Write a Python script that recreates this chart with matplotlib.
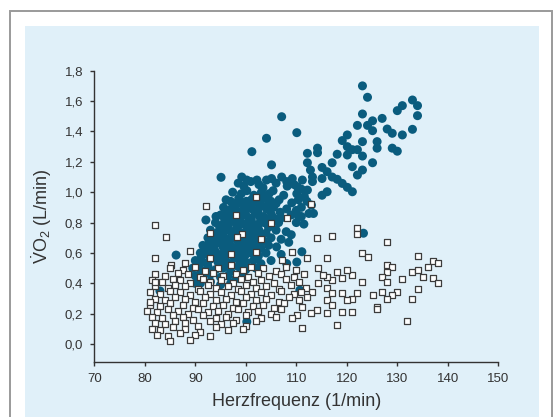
import matplotlib
matplotlib.use("Agg")
import matplotlib.pyplot as plt
from matplotlib.patches import Rectangle

plt.rcParams['font.family'] = ['Liberation Sans', 'DejaVu Sans']
plt.rcParams['mathtext.fontset'] = 'custom'
plt.rcParams['mathtext.rm'] = 'Liberation Sans'
plt.rcParams['mathtext.it'] = 'Liberation Sans'

# ---- data: filled circles (x = heart rate, y = VO2) ----
circle_x = [
    123.1, 124.1, 133.0, 134.0, 131.0, 130.0, 134.0, 123.1, 127.0, 125.1, 122.1, 124.1, 125.1, 128.0, 129.0,
    131.0, 133.0, 120.1, 119.1, 123.1, 126.0, 126.0, 129.0, 130.0, 120.1, 121.1, 122.1, 118.1, 120.1, 123.1,
    125.1, 117.1, 121.1, 115.1, 123.1, 116.1, 117.1, 118.1, 115.1, 119.1, 121.1, 116.1, 115.1, 120.1, 122.1,
    114.2, 112.2, 112.2, 112.8, 113.2, 111.2, 113.2, 109.2, 110.2, 112.2, 114.2, 107.1, 110.1, 104.1, 101.2,
    105.1, 95.1, 99.2, 100.2, 102.2, 104.1, 105.1, 107.1, 108.1, 86.2, 83.0, 92.1, 94.1, 123.3, 111.1,
    110.1, 108.1, 113.4, 113.0, 111.0, 111.0,
    98.5, 99.6, 101.0, 102.6, 103.4, 106.0, 108.2, 109.6, 111.0,
    97.4, 99.1, 100.2, 101.6, 103.1, 104.6, 105.4, 107.5, 110.1, 111.6,
    96.1, 97.0, 98.6, 100.1, 101.1, 102.2, 103.6, 105.0, 106.6, 109.1, 110.4, 112.1,
    95.6, 97.1, 98.0, 99.6, 100.5, 101.6, 103.0, 104.1, 105.5, 108.1, 110.0,
    95.0, 96.6, 97.6, 99.0, 100.0, 101.1, 102.1, 103.5, 105.1, 107.0, 109.0, 110.5, 112.5,
    94.0, 95.5, 97.0, 98.1, 99.1, 100.0, 101.1, 102.5, 103.6, 105.0, 106.5, 110.0, 111.5,
    93.0, 94.6, 96.0, 97.1, 98.0, 99.1, 100.5, 101.5, 102.6, 104.0, 106.0, 108.0, 109.0,
    92.5, 94.0, 95.1, 96.5, 97.6, 99.0, 100.1, 101.0, 102.1, 103.5, 105.0, 107.0, 108.5,
    91.5, 93.0, 94.1, 95.5, 97.0, 98.1, 99.0, 100.1, 101.5, 103.0, 104.5, 106.1,
    91.0, 92.5, 94.0, 95.1, 96.0, 97.5, 99.0, 100.0, 101.1, 102.5, 104.0, 107.0,
    90.0, 91.5, 93.0, 94.5, 96.0, 97.1, 98.5, 100.0, 101.5, 103.0, 105.0,
    89.5, 91.0, 92.5, 94.0, 95.5, 97.0, 98.5, 100.0, 102.0,
    90.0, 91.5, 93.0, 95.0, 96.5, 98.0, 99.5,
    91.0, 93.0, 95.0, 97.0,
    110.7, 100.2, 90.0,
    97.8, 99.3, 100.8, 102.8, 104.4, 106.0,
    96.3, 98.8, 100.0, 102.4, 104.8, 106.8,
    95.8, 98.5, 100.6, 102.9, 104.3, 106.0,
    94.8, 96.5, 98.6, 100.4, 102.0, 104.5,
    93.8, 95.6, 97.9, 99.6, 101.3, 103.0,
    92.8, 94.8, 96.3, 98.5, 100.6, 102.6,
    92.0, 93.6, 96.6, 98.4, 100.6, 102.0,
    91.2, 93.8, 95.6, 97.8, 99.6, 102.0,
    90.6, 92.4, 95.0, 96.4, 99.0,
]
circle_y = [
    1.700, 1.625, 1.607, 1.570, 1.570, 1.537, 1.504, 1.515, 1.486, 1.470, 1.440, 1.440, 1.405, 1.416, 1.388,
    1.377, 1.414, 1.377, 1.340, 1.333, 1.333, 1.290, 1.290, 1.270, 1.300, 1.280, 1.280, 1.250, 1.245, 1.238,
    1.194, 1.194, 1.168, 1.163, 1.146, 1.135, 1.100, 1.085, 1.090, 1.058, 1.003, 1.003, 0.980, 1.032, 1.113,
    1.260, 1.256, 1.194, 1.146, 1.100, 1.080, 1.070, 1.090, 1.036, 1.014, 1.290, 1.497, 1.392, 1.355, 1.267,
    1.180, 1.098, 1.100, 1.080, 1.080, 1.080, 1.090, 1.100, 1.070, 0.586, 0.350, 0.817, 0.840, 0.730, 0.608,
    0.540, 0.530, 0.860, 0.915, 0.900, 0.840,
    1.06, 1.04, 1.07, 1.05, 1.03, 1.06, 1.04, 1.05, 1.02,
    1.00, 0.99, 1.01, 0.98, 1.00, 0.99, 1.01, 0.98, 0.99, 0.97,
    0.95, 0.94, 0.96, 0.94, 0.95, 0.93, 0.96, 0.94, 0.95, 0.93, 0.95, 0.94,
    0.90, 0.89, 0.91, 0.89, 0.90, 0.88, 0.91, 0.89, 0.90, 0.89, 0.88,
    0.85, 0.84, 0.86, 0.84, 0.85, 0.83, 0.86, 0.84, 0.85, 0.83, 0.85, 0.84, 0.86,
    0.80, 0.79, 0.81, 0.79, 0.80, 0.78, 0.81, 0.79, 0.80, 0.78, 0.80, 0.80, 0.79,
    0.75, 0.74, 0.76, 0.74, 0.75, 0.73, 0.76, 0.74, 0.75, 0.73, 0.75, 0.74, 0.72,
    0.70, 0.69, 0.71, 0.69, 0.70, 0.68, 0.71, 0.69, 0.70, 0.68, 0.70, 0.69, 0.67,
    0.65, 0.64, 0.66, 0.64, 0.65, 0.63, 0.66, 0.64, 0.65, 0.63, 0.65, 0.64,
    0.60, 0.59, 0.61, 0.59, 0.60, 0.58, 0.61, 0.59, 0.60, 0.58, 0.60, 0.59,
    0.55, 0.54, 0.56, 0.54, 0.55, 0.53, 0.56, 0.54, 0.55, 0.53, 0.55,
    0.50, 0.49, 0.51, 0.49, 0.50, 0.48, 0.51, 0.49, 0.50,
    0.45, 0.44, 0.46, 0.44, 0.45, 0.43, 0.45,
    0.40, 0.41, 0.39, 0.40,
    0.355, 0.147, 0.400,
    0.925, 0.930, 0.920, 0.928, 0.918, 0.925,
    0.875, 0.870, 0.880, 0.872, 0.878, 0.868,
    0.825, 0.830, 0.820, 0.828, 0.818, 0.822,
    0.775, 0.770, 0.780, 0.772, 0.778, 0.768,
    0.725, 0.730, 0.720, 0.728, 0.718, 0.722,
    0.675, 0.670, 0.680, 0.672, 0.678, 0.668,
    0.625, 0.630, 0.620, 0.628, 0.618, 0.622,
    0.575, 0.570, 0.580, 0.572, 0.578, 0.568,
    0.525, 0.530, 0.520, 0.528, 0.518,
]

# ---- data: open squares ----
square_x = [
    102.0, 92.1, 113.0, 98.1, 108.1, 105.0, 82.0, 93.0, 99.2, 98.2, 103.0, 84.1, 114.0, 117.0, 122.0,
    122.1, 128.0, 89.0, 82.0, 97.1, 102.0, 109.1, 123.1, 124.1, 134.0, 112.1, 116.0, 107.1, 93.0, 88.0,
    85.1, 137.1, 138.1, 128.0, 129.0, 136.1, 133.0, 134.0, 128.0, 127.0, 128.0, 131.0, 135.0, 137.0, 138.1,
    134.0, 130.0, 129.0, 127.0, 128.0, 125.1, 133.0, 125.9, 125.9, 123.1, 122.1, 121.1, 120.1, 119.1, 121.1,
    120.1, 119.1, 118.1, 117.1, 116.1, 115.2, 114.2, 114.2, 116.1, 117.1, 116.1, 117.1, 116.1, 119.1, 121.1,
    118.1, 132.0, 111.1, 113.2, 112.1, 114.0, 113.0, 111.1, 110.1, 109.1,
    85.0, 87.5, 90.0, 92.0, 94.5, 97.0, 99.5, 101.0, 103.5, 106.0, 108.0, 110.0,
    82.0, 84.0, 86.5, 88.5, 91.0, 93.5, 95.5, 98.0, 100.5, 102.5, 104.5, 107.0, 109.5, 111.5,
    81.5, 83.5, 85.5, 87.0, 89.0, 91.5, 93.0, 95.0, 97.5, 99.0, 101.5, 103.0, 105.5, 108.0, 110.5,
    82.0, 84.5, 86.0, 88.0, 90.5, 92.5, 94.0, 96.5, 98.5, 100.0, 102.0, 104.0, 106.5, 109.0, 112.0,
    81.0, 83.0, 85.0, 87.0, 89.0, 91.0, 93.0, 95.0, 97.0, 99.0, 101.0, 103.0, 105.0, 107.0, 109.5, 111.0,
    82.0, 84.0, 86.0, 88.0, 90.0, 92.0, 94.0, 96.0, 98.0, 100.0, 102.0, 104.0, 106.5, 108.5, 110.5,
    81.0, 83.0, 85.0, 87.5, 89.5, 91.5, 93.5, 95.5, 97.5, 99.5, 101.5, 103.5, 105.5, 107.5,
    80.5, 82.5, 84.5, 86.5, 88.5, 90.5, 92.5, 94.5, 96.5, 98.5, 100.5, 102.5, 105.0, 107.0,
    81.5, 83.5, 85.5, 87.5, 89.5, 91.5, 94.0, 96.0, 98.0, 100.0, 103.0, 106.0,
    82.0, 84.0, 86.0, 88.0, 90.5, 93.0, 95.0, 97.5, 100.0, 102.0,
    81.5, 83.0, 85.5, 88.0, 91.0, 94.0, 96.5, 99.5,
    82.5, 84.5, 87.0, 90.0, 93.0,
    85.0, 89.0, 81.0, 82.0,
]
square_y = [
    0.970, 0.909, 0.922, 0.850, 0.832, 0.795, 0.784, 0.733, 0.722, 0.707, 0.689, 0.703, 0.696, 0.711, 0.762,
    0.725, 0.674, 0.615, 0.569, 0.593, 0.608, 0.608, 0.602, 0.575, 0.582, 0.564, 0.564, 0.553, 0.564, 0.536,
    0.520, 0.547, 0.531, 0.520, 0.509, 0.505, 0.476, 0.487, 0.476, 0.443, 0.410, 0.428, 0.443, 0.432, 0.399,
    0.360, 0.345, 0.323, 0.345, 0.300, 0.323, 0.294, 0.246, 0.230, 0.410, 0.334, 0.300, 0.290, 0.334, 0.454,
    0.487, 0.432, 0.476, 0.421, 0.443, 0.454, 0.498, 0.400, 0.367, 0.334, 0.290, 0.257, 0.202, 0.213, 0.213,
    0.125, 0.154, 0.103, 0.345, 0.312, 0.224, 0.202, 0.246, 0.190, 0.169,
    0.50, 0.49, 0.51, 0.48, 0.50, 0.52, 0.49, 0.51, 0.50, 0.48, 0.51, 0.49,
    0.46, 0.45, 0.47, 0.46, 0.44, 0.47, 0.45, 0.46, 0.44, 0.47, 0.45, 0.46, 0.44, 0.46,
    0.42, 0.41, 0.43, 0.42, 0.40, 0.43, 0.41, 0.42, 0.40, 0.43, 0.41, 0.42, 0.40, 0.43, 0.41,
    0.38, 0.37, 0.39, 0.38, 0.36, 0.39, 0.37, 0.38, 0.36, 0.39, 0.37, 0.38, 0.36, 0.39, 0.37,
    0.34, 0.33, 0.35, 0.34, 0.32, 0.35, 0.33, 0.34, 0.32, 0.35, 0.33, 0.34, 0.32, 0.35, 0.33, 0.34,
    0.30, 0.29, 0.31, 0.30, 0.28, 0.31, 0.29, 0.30, 0.28, 0.31, 0.29, 0.30, 0.28, 0.31, 0.29,
    0.26, 0.25, 0.27, 0.26, 0.24, 0.27, 0.25, 0.26, 0.24, 0.27, 0.25, 0.26, 0.24, 0.27,
    0.22, 0.21, 0.23, 0.22, 0.20, 0.23, 0.21, 0.22, 0.20, 0.23, 0.21, 0.22, 0.20, 0.23,
    0.18, 0.17, 0.19, 0.18, 0.16, 0.19, 0.17, 0.18, 0.16, 0.19, 0.17, 0.18,
    0.14, 0.13, 0.15, 0.14, 0.12, 0.15, 0.13, 0.14, 0.12, 0.15,
    0.10, 0.09, 0.11, 0.10, 0.08, 0.11, 0.09, 0.10,
    0.06, 0.05, 0.07, 0.06, 0.05,
    0.02, 0.03, 0.28, 0.41,
]

x_ticks = [70, 80, 90, 100, 110, 120, 130, 140, 150]
y_ticks = [0.0, 0.2, 0.4, 0.6, 0.8, 1.0, 1.2, 1.4, 1.6, 1.8]
y_tick_labels = ['0,0', '0,2', '0,4', '0,6', '0,8', '1,0', '1,2', '1,4', '1,6', '1,8']
x_label = 'Herzfrequenz (1/min)'
y_label = r'$\dot{\mathrm{V}}\mathrm{O}_2$ (L/min)'

W, H = 555, 417
fig = plt.figure(figsize=(W / 100, H / 100), dpi=100)
fig.patch.set_facecolor('white')

# outer gray frame and light blue panel
fig.patches.append(Rectangle((10 / W, -0.05), (552 - 10) / W, 1.05 - 10.5 / H,
                             transform=fig.transFigure, facecolor='white',
                             edgecolor='#9a9a9a', linewidth=1.4, zorder=-2))
fig.patches.append(Rectangle((25 / W, -0.05), (539 - 25) / W, 1.05 - 26 / H,
                             transform=fig.transFigure, facecolor='#e0f0f9',
                             edgecolor='none', zorder=-1))

ax = fig.add_axes([94.3 / W, 1 - 361.7 / H, (498.3 - 94.3) / W, (361.7 - 70.7) / H])
ax.set_zorder(1)
ax.set_facecolor('none')

ax.scatter(circle_x, circle_y, s=42, marker='o', color='#0a5c7e', edgecolors='none', zorder=2)
ax.scatter(square_x, square_y, s=22, marker='s', facecolors='white', edgecolors='#3c3c3c',
           linewidths=0.9, zorder=3)

ax.set_xlim(70, 150)
ax.set_ylim(-0.116, 1.8)
ax.set_xticks(x_ticks)
ax.set_yticks(y_ticks)
ax.set_yticklabels(y_tick_labels)

for s in ['top', 'right']:
    ax.spines[s].set_visible(False)
for s in ['left', 'bottom']:
    ax.spines[s].set_color('#333333')
    ax.spines[s].set_linewidth(1.0)

ax.tick_params(axis='both', direction='out', length=3, width=1.0, color='#333333',
               labelsize=9.5, labelcolor='#333333')
ax.tick_params(axis='x', pad=5)
ax.tick_params(axis='y', pad=5)

ax.set_xlabel(x_label, fontsize=13, color='#333333', labelpad=6)
ax.set_ylabel(y_label, fontsize=13, color='#333333', labelpad=8)

fig.savefig('out.png', dpi=100)
